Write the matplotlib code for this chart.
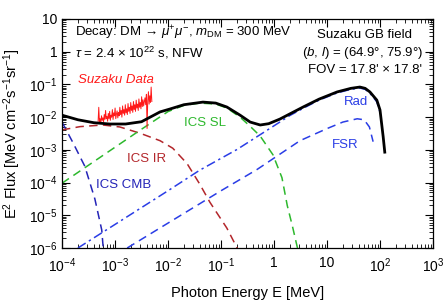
import matplotlib
matplotlib.use("Agg")
import matplotlib.pyplot as plt
import numpy as np
from matplotlib.ticker import FixedLocator, LogLocator, NullFormatter

plt.rcParams["font.family"] = ["Liberation Sans", "DejaVu Sans"]
plt.rcParams["mathtext.fontset"] = "custom"
plt.rcParams["mathtext.rm"] = "Liberation Sans"
plt.rcParams["mathtext.it"] = "Liberation Sans:italic"

# curves as (log10 E [MeV], log10 flux)
total_logE = [-4, -3.7, -3.4, -3.1, -2.8, -2.5, -2.15, -1.96, -1.7, -1.34, -1.1, -0.89, -0.64,
              -0.45, -0.26, -0.1, 0.11, 0.3, 0.55, 0.85, 1.19, 1.45, 1.62, 1.72, 1.81, 1.94,
              2.0, 2.06, 2.09]
total_logF = [-1.94, -2.08, -2.17, -2.21, -2.21, -2.14, -1.84, -1.75, -1.62, -1.54, -1.57, -1.69,
              -1.94, -2.15, -2.24, -2.2, -2.06, -1.9, -1.69, -1.45, -1.23, -1.12, -1.08, -1.12,
              -1.23, -1.48, -1.78, -2.6, -3.07]

sl_logE = [-4, -3, -2.5, -2.0, -1.7, -1.4, -1.1, -0.89, -0.64, -0.45, -0.26, -0.02, 0.15,
           0.25, 0.35, 0.45]
sl_logF = [-4.02, -2.92, -2.37, -1.83, -1.64, -1.57, -1.6, -1.72, -2.0, -2.28, -2.58, -3.15,
           -3.85, -4.7, -5.35, -6.05]

ir_logE = [-4, -3.66, -3.23, -2.91, -2.53, -2.15, -1.91, -1.64, -1.4, -1.21, -0.89, -0.68]
ir_logF = [-2.39, -2.29, -2.24, -2.30, -2.49, -2.72, -2.95, -3.42, -4.05, -4.6, -5.39, -6.05]

cmb_logE = [-4, -3.79, -3.57, -3.38, -3.25, -3.22]
cmb_logF = [-2.15, -2.79, -3.5, -4.5, -5.45, -6.05]

rad_logE = [-3.7, -3.0, -2.0, -1.4, -0.7, -0.13, 0.11, 0.3, 0.55, 0.85, 1.19, 1.45, 1.62,
            1.72, 1.81, 1.94, 2.0]
rad_logF = [-6.0, -5.28, -4.25, -3.62, -2.99, -2.4, -2.15, -1.95, -1.73, -1.48, -1.26, -1.15,
            -1.11, -1.15, -1.27, -1.53, -1.85]

fsr_logE = [-2.77, -1.0, -0.32, 0.49, 1.0, 1.3, 1.57, 1.7, 1.8, 1.87]
fsr_logF = [-6.0, -4.25, -3.6, -2.72, -2.35, -2.15, -2.05, -2.08, -2.3, -2.75]

# Suzaku spectrum: energy [keV], E^2 flux [1e-2 MeV cm^-2 s^-1 sr^-1]
suz_keV = [0.480, 0.494, 0.509, 0.524, 0.540, 0.556, 0.573, 0.590, 0.608, 0.626,
           0.645, 0.664, 0.684, 0.704, 0.725, 0.747, 0.770, 0.793, 0.816, 0.841,
           0.866, 0.892, 0.919, 0.946, 0.975, 1.004, 1.034, 1.065, 1.097, 1.130,
           1.164, 1.199, 1.235, 1.272, 1.310, 1.349, 1.390, 1.431, 1.474, 1.519,
           1.564, 1.611, 1.659, 1.709, 1.761, 1.813, 1.868, 1.924, 1.981, 2.041,
           2.102, 2.165, 2.230, 2.297, 2.366, 2.437, 2.510, 2.585, 2.663, 2.743,
           2.825, 2.910, 2.997, 3.087, 3.180, 3.275, 3.373, 3.475, 3.579, 3.686,
           3.797, 3.911, 4.028, 4.149, 4.273, 4.401, 4.533, 4.669, 4.810, 4.954]
suz_flux = [0.75, 2.0, 0.7, 0.9, 0.65, 1.1, 0.8, 0.95, 0.7, 1.2,
            0.85, 1.6, 0.9, 1.05, 0.75, 1.3, 0.9, 1.5, 0.8, 1.15,
            1.0, 1.7, 0.85, 1.35, 1.1, 1.9, 0.9, 1.25, 1.55, 0.95,
            1.4, 1.1, 2.0, 1.2, 1.6, 1.0, 2.2, 1.3, 1.7, 1.15,
            2.4, 1.35, 1.8, 1.2, 2.6, 1.5, 2.0, 1.3, 2.8, 1.6,
            2.2, 1.4, 3.0, 1.7, 2.4, 1.5, 3.3, 1.9, 2.5, 1.6,
            3.6, 2.0, 2.8, 1.8, 4.2, 2.1, 3.4, 2.2, 3.0, 3.9,
            2.4, 5.0, 0.45, 3.2, 6.0, 2.5, 4.5, 2.8, 8.3, 3.0]

c_red = "#ff1a1a"
c_ir = "#b3262b"
c_sl = "#2db82d"
c_blue = "#2a3de6"
c_cmb = "#2424b8"

fig = plt.figure(figsize=(4.45, 3.05), dpi=100)
ax = fig.add_axes([62 / 445, 1 - 248 / 305, 371 / 445, 229 / 305])


def p(le, lf):
    return 10 ** np.array(le), 10 ** np.array(lf)


dash = (5.5, 3.5)
ax.plot(*p(cmb_logE, cmb_logF), color=c_cmb, lw=1.1, dashes=dash)
ax.plot(*p(ir_logE, ir_logF), color=c_ir, lw=1.1, dashes=dash)
ax.plot(*p(sl_logE, sl_logF), color=c_sl, lw=1.1, dashes=dash)
ax.plot(*p(fsr_logE, fsr_logF), color=c_blue, lw=1.1, dashes=dash)
ax.plot(*p(rad_logE, rad_logF), color=c_blue, lw=1.1, dashes=(6, 2.5, 1.5, 2.5))
ax.plot(np.array(suz_keV) * 1e-3, np.array(suz_flux) * 1e-2, color=c_red, lw=0.7)
ax.plot(*p(total_logE, total_logF), color="black", lw=2.0)

ax.set_xscale("log")
ax.set_yscale("log")
ax.set_xlim(1e-4, 1e3)
ax.set_ylim(1e-6, 10)

xt = [1e-4, 1e-3, 1e-2, 1e-1, 1, 10, 1e2, 1e3]
xl = [r"$10^{-4}$", r"$10^{-3}$", r"$10^{-2}$", r"$10^{-1}$", "1", "10", r"$10^{2}$", r"$10^{3}$"]
yt = [1e-6, 1e-5, 1e-4, 1e-3, 1e-2, 1e-1, 1, 10]
yl = [r"$10^{-6}$", r"$10^{-5}$", r"$10^{-4}$", r"$10^{-3}$", r"$10^{-2}$", r"$10^{-1}$", "1", "10"]
ax.xaxis.set_major_locator(FixedLocator(xt))
ax.set_xticklabels(xl)
ax.yaxis.set_major_locator(FixedLocator(yt))
ax.set_yticklabels(yl)
ax.xaxis.set_minor_locator(LogLocator(base=10, subs=np.arange(2, 10), numticks=20))
ax.yaxis.set_minor_locator(LogLocator(base=10, subs=np.arange(2, 10), numticks=20))
ax.xaxis.set_minor_formatter(NullFormatter())
ax.yaxis.set_minor_formatter(NullFormatter())
ax.tick_params(which="both", direction="in", top=True, right=True, labelsize=10)
ax.tick_params(which="major", length=6, width=0.8)
ax.tick_params(which="minor", length=3, width=0.6)
ax.tick_params(axis="x", pad=6)
for s in ax.spines.values():
    s.set_linewidth(0.9)

ax.set_xlabel("Photon Energy E [MeV]", fontsize=10.5, labelpad=8)
ax.set_ylabel(r"E$^2$ Flux [MeV cm$^{-2}$s$^{-1}$sr$^{-1}$]", fontsize=10.5, labelpad=4)

tk = dict(fontsize=9.5, transform=ax.transAxes, va="center")
ax.text(0.035, 0.939, r"Decay: DM → $\mu^{+}\mu^{-}$, $m_{\rm DM}$ = 300 MeV", ha="left", **tk)
ax.text(0.035, 0.85, r"$\tau$ = 2.4 × 10$^{22}$ s, NFW", ha="left", **tk)
ax.text(0.943, 0.93, "Suzaku GB field", ha="right", **tk)
ax.text(0.973, 0.85, r"($b$, $l$) = (64.9°, 75.9°)", ha="right", **tk)
ax.text(0.97, 0.777, "FOV = 17.8' × 17.8'", ha="right", **tk)
ax.text(0.043, 0.734, "Suzaku Data", ha="left", color=c_red, style="italic", **tk)

lk = dict(fontsize=9.5, ha="center", va="center")
ax.text(0.05, 10 ** -2.18, "ICS SL", color=c_sl, **lk)
ax.text(10 ** -2.40, 10 ** -3.28, "ICS IR", color=c_ir, **lk)
ax.text(10 ** -2.83, 10 ** -4.08, "ICS CMB", color=c_cmb, **lk)
ax.text(10 ** 1.55, 10 ** -1.54, "Rad", color=c_blue, **lk)
ax.text(10 ** 1.34, 10 ** -2.85, "FSR", color=c_blue, **lk)

fig.savefig("out.png", dpi=100)
